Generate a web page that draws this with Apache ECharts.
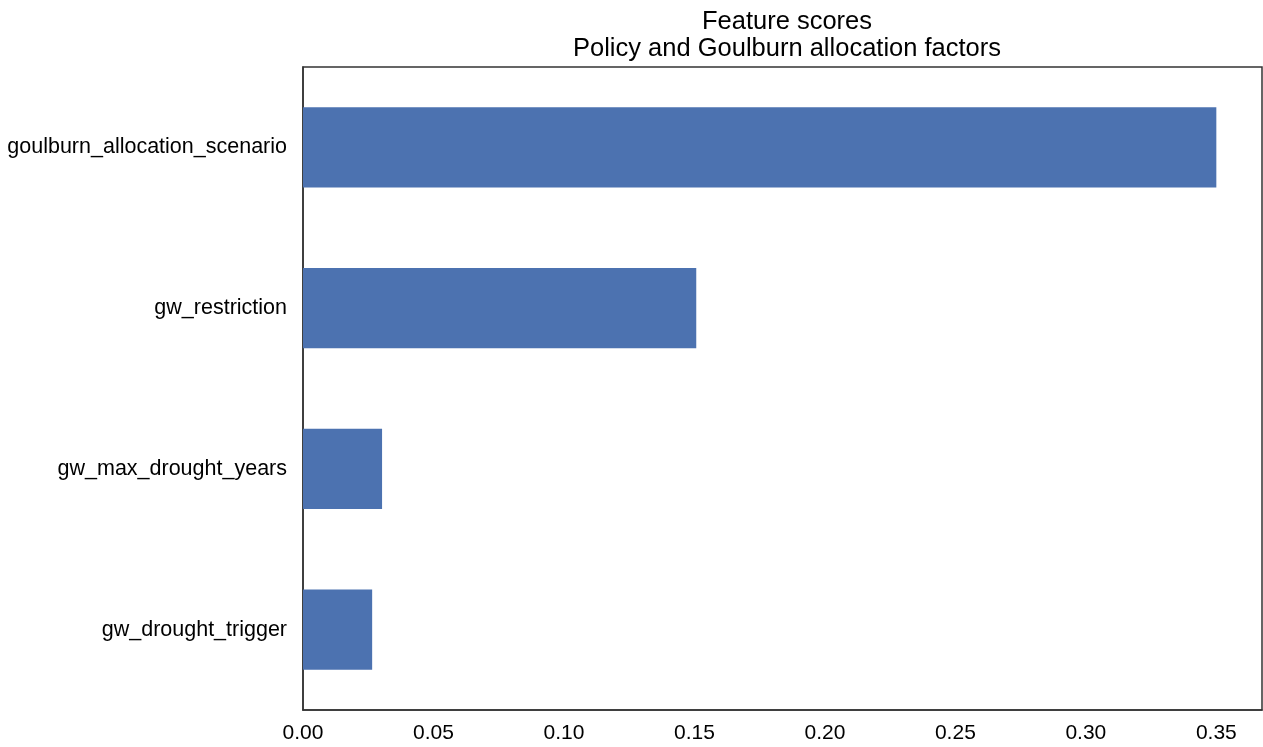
<!DOCTYPE html>
<html>
<head>
<meta charset="utf-8">
<script src="https://cdn.jsdelivr.net/npm/echarts@6/dist/echarts.min.js"></script>
<style>
  html, body { margin: 0; padding: 0; background: #fff; }
  #chart { width: 1263px; height: 747px; }
</style>
</head>
<body>
<div id="chart"></div>
<script>
// Feature scores, listed top to bottom
const features = [
  'goulburn_allocation_scenario',
  'gw_restriction',
  'gw_max_drought_years',
  'gw_drought_trigger'
];
const scores = [0.350, 0.1507, 0.0303, 0.0265];
const xTicks = [0, 0.05, 0.10, 0.15, 0.20, 0.25, 0.30, 0.35];

const font = '"Liberation Sans", Arial, sans-serif';
const chart = echarts.init(document.getElementById('chart'), null, { renderer: 'canvas' });

chart.setOption({
  animation: false,
  backgroundColor: '#ffffff',
  title: {
    text: 'Feature scores\nPolicy and Goulburn allocation factors',
    left: 782,
    top: 3,
    textAlign: 'center',
    textStyle: { fontFamily: font, fontSize: 25.5, fontWeight: 'normal', color: '#000', lineHeight: 27 }
  },
  grid: {
    left: 303, right: 1, top: 67, bottom: 37,
    show: true, borderColor: '#333', borderWidth: 1.5, backgroundColor: '#fff'
  },
  xAxis: {
    type: 'value',
    min: 0,
    max: scores[0] * 1.05,
    interval: 0.05,
    splitLine: { show: false },
    axisTick: { show: false },
    axisLine: { show: true, lineStyle: { color: '#333', width: 1.5 } },
    axisLabel: {
      fontFamily: font, fontSize: 21, color: '#000', margin: 13,
      showMaxLabel: false,
      formatter: v => xTicks.some(t => Math.abs(t - v) < 1e-9) ? v.toFixed(2) : ''
    }
  },
  yAxis: {
    type: 'category',
    inverse: true,
    data: features,
    axisTick: { show: false },
    axisLine: { show: true, lineStyle: { color: '#333', width: 1.5 } },
    axisLabel: { fontFamily: font, fontSize: 21.5, color: '#000', margin: 16 }
  },
  series: [{
    type: 'bar',
    data: scores,
    barWidth: '50%',
    itemStyle: { color: '#4c72b0' }
  }]
});
</script>
</body>
</html>
